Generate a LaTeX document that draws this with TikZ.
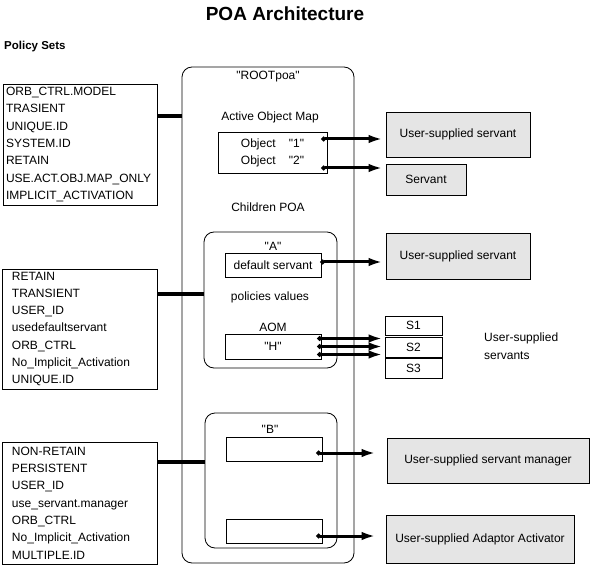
\documentclass[tikz,border=0pt]{standalone}
\usepackage{fontspec}
\setmainfont{Liberation Sans}
\usetikzlibrary{arrows.meta}

\newcommand{\dq}{\textquotedbl}

\tikzset{
  polbox/.style={draw, line width=0.8pt, align=left, inner ysep=0pt,
    font=\fontsize{12}{17.3}\selectfont},
  poabox/.style={draw, line width=0.8pt, rounded corners=10pt},
  mapbox/.style={draw, line width=0.8pt, inner sep=0pt},
  userbox/.style={draw, line width=0.8pt, fill=gray!20, inner sep=0pt},
  srvarrow/.style={line width=3pt, {Circle[length=4.5pt]}-{Latex[length=14pt,width=8.5pt]}, shorten >=3pt},
  pollink/.style={line width=4pt}
}

\begin{document}
\begin{tikzpicture}[x=1pt, y=-1pt, every node/.style={font=\fontsize{12}{14}\selectfont}]
  \useasboundingbox (0,0) rectangle (594,569);

  \node[font=\fontsize{19}{22}\selectfont\bfseries] (title) at (285,14) {POA Architecture};
  \node[font=\fontsize{11.5}{14}\selectfont\bfseries, anchor=west, inner sep=0pt] (polsets) at (4,47) {Policy Sets};

  % policy sets
  \node[polbox, inner xsep=3pt, text width=148pt, minimum height=121pt] (pol1) at (80,144.5)
    {ORB\_CTRL.MODEL\\TRASIENT\\UNIQUE.ID\\SYSTEM.ID\\RETAIN\\USE.ACT.OBJ.MAP\_ONLY\\IMPLICIT\_ACTIVATION};
  \node[polbox, inner xsep=10pt, text width=135pt, minimum height=120pt] (pol2) at (79.5,329)
    {RETAIN\\TRANSIENT\\USER\_ID\\usedefaultservant\\ORB\_CTRL\\No\_Implicit\_Activation\\UNIQUE.ID};
  \node[polbox, inner xsep=10pt, text width=135pt, minimum height=122pt] (pol3) at (79.5,503)
    {NON-RETAIN\\PERSISTENT\\USER\_ID\\use\_servant.manager\\ORB\_CTRL\\No\_Implicit\_Activation\\MULTIPLE.ID};

  % root POA
  \node[poabox, minimum width=172pt, minimum height=496pt] (root) at (268,315) {};
  \node (rootlbl) at (268,77) {\dq ROOTpoa\dq};
  \node (aomlbl) at (270,117) {Active Object Map};
  \node[mapbox, align=center, minimum width=109pt, minimum height=41pt, font=\fontsize{12}{17}\selectfont] (aom) at (272.5,152.5)
    {Object\hspace{1.1em}\dq 1\dq\\Object\hspace{1.1em}\dq 2\dq};
  \node (childlbl) at (268,207) {Children POA};

  % child A
  \node[poabox, minimum width=133pt, minimum height=136pt] (poaA) at (270.5,300) {};
  \node (albl) at (273,246) {\dq A\dq};
  \node[mapbox, minimum width=96pt, minimum height=24pt] (defsrv) at (273,265) {default servant};
  \node (polval) at (270,297) {policies values};
  \node (hlbl) at (273,327) {AOM};
  \node[mapbox, minimum width=96pt, minimum height=25pt] (hmap) at (273,346.5) {\dq H\dq};

  % child B
  \node[poabox, minimum width=132pt, minimum height=135pt] (poaB) at (271,480.5) {};
  \node (blbl) at (270,429) {\dq B\dq};
  \node[mapbox, minimum width=96pt, minimum height=24pt] (bmap1) at (274,449) {};
  \node[mapbox, minimum width=96pt, minimum height=24pt] (bmap2) at (274,531) {};

  % user supplied objects
  \node[userbox, minimum width=144pt, minimum height=45pt] (usrv1) at (458,134.5) {User-supplied servant};
  \node[userbox, minimum width=80pt, minimum height=31pt] (servant) at (426,179.5) {Servant};
  \node[userbox, minimum width=144pt, minimum height=46pt] (usrv2) at (458,256) {User-supplied servant};
  \node[mapbox, minimum width=57pt, minimum height=19pt] (s1) at (413.5,325.5) {S1};
  \node[mapbox, minimum width=57pt, minimum height=20pt] (s2) at (413.5,347) {S2};
  \node[mapbox, minimum width=57pt, minimum height=20pt] (s3) at (413.5,368) {S3};
  \node[anchor=west, align=left, inner sep=0pt, font=\fontsize{12}{18}\selectfont] (srvs) at (484,346) {User-supplied\\servants};
  \node[userbox, minimum width=202pt, minimum height=45pt] (mgr) at (488,460.5) {User-supplied servant manager};
  \node[userbox, minimum width=188pt, minimum height=48pt] (act) at (480,539) {User-supplied Adaptor Activator};

  % policy links
  \coordinate (p1) at ([yshift=28.5pt]pol1.east);
  \coordinate (p2) at ([yshift=35pt]pol2.east);
  \coordinate (p3) at ([yshift=41pt]pol3.east);
  \draw[pollink] (p1) -- (p1 -| root.west);
  \draw[pollink, {Square[length=4pt]}-] (p2) -- (p2 -| poaA.west);
  \draw[pollink, {Square[length=4pt]}-] (p3) -- (p3 -| poaB.west);

  % servant arrows
  \coordinate (a1) at ([xshift=-6pt, yshift=13.5pt]aom.east);
  \coordinate (a2) at ([xshift=-6pt, yshift=-15.5pt]aom.east);
  \draw[srvarrow] (a1) -- (a1 -| usrv1.west);
  \draw[srvarrow] (a2) -- (a2 -| servant.west);
  \coordinate (a3) at ([xshift=-1pt, yshift=3pt]defsrv.east);
  \draw[srvarrow] (a3) -- (a3 -| usrv2.west);
  \foreach \dy [count=\i] in {8,0,-8} {
    \coordinate (h\i) at ([xshift=-4pt, yshift=\dy pt]hmap.east);
    \draw[srvarrow, shorten >=2pt] (h\i) -- (h\i -| s2.west);
  }
  \coordinate (b1) at ([xshift=-6pt, yshift=-4pt]bmap1.east);
  \coordinate (b2) at ([xshift=-6pt, yshift=-5pt]bmap2.east);
  \draw[srvarrow, shorten >=11pt] (b1) -- (b1 -| mgr.west);
  \draw[srvarrow, shorten >=10pt] (b2) -- (b2 -| act.west);
\end{tikzpicture}
\end{document}
